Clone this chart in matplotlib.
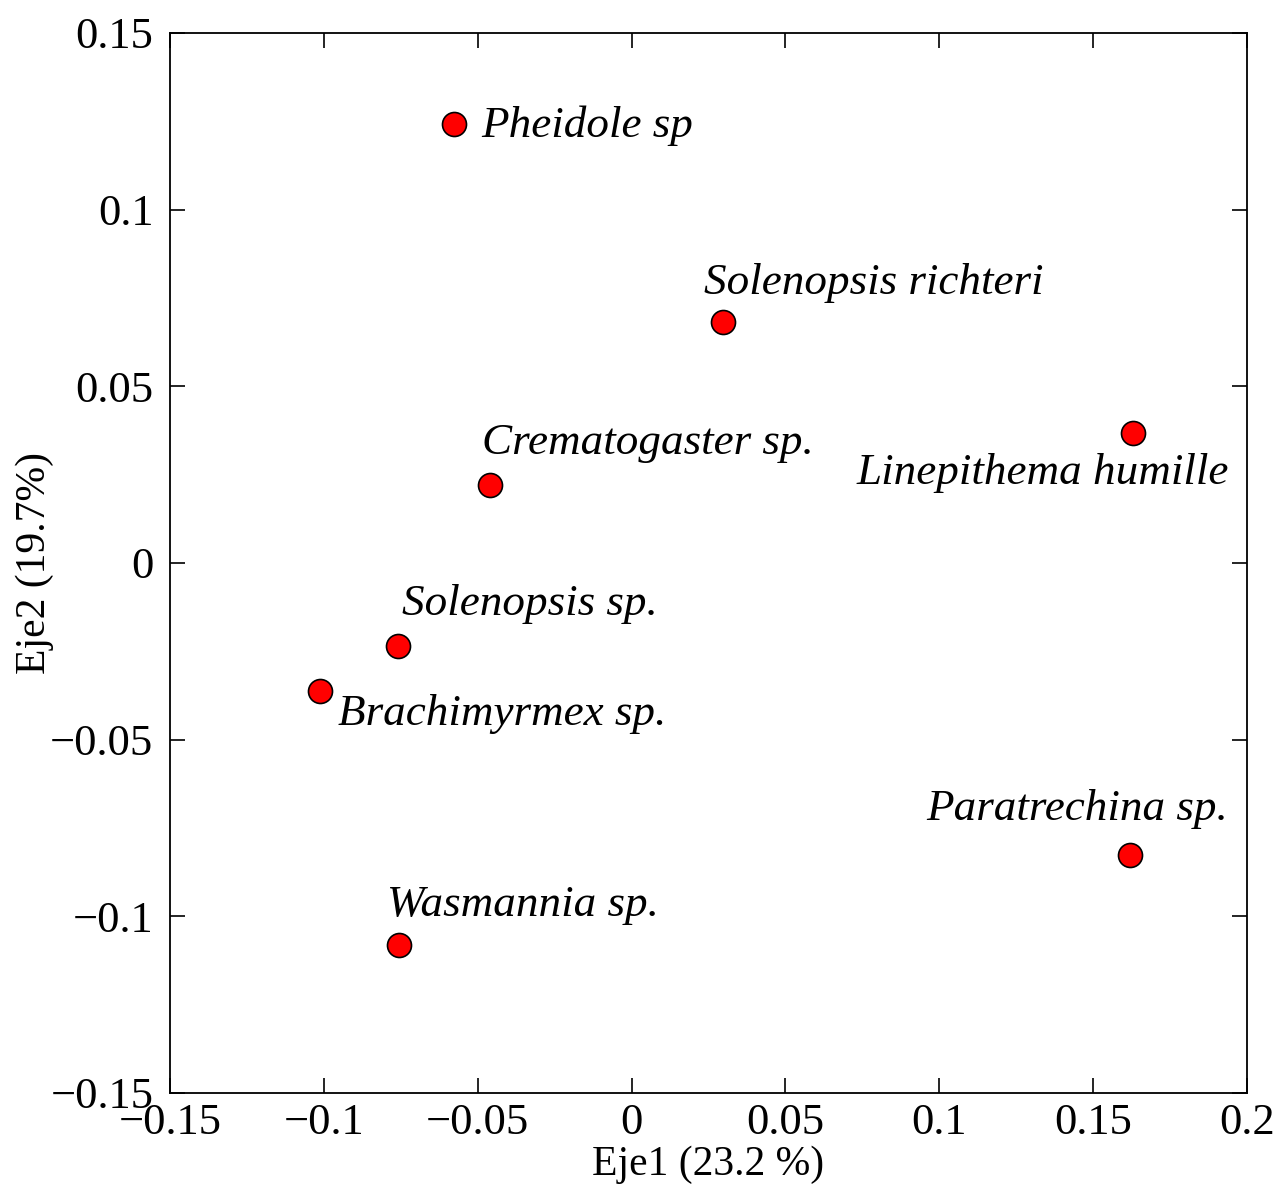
import matplotlib
matplotlib.use('Agg')
import matplotlib.pyplot as plt
import matplotlib.ticker as ticker

# species scores on the first two axes
species = ['Pheidole sp', 'Solenopsis richteri', 'Linepithema humille',
           'Crematogaster sp.', 'Solenopsis sp.', 'Brachimyrmex sp.',
           'Paratrechina sp.', 'Wasmannia sp.']
eje1 = [-0.0577, 0.0298, 0.1630, -0.0460, -0.0759, -0.1013, 0.1620, -0.0756]
eje2 = [0.1243, 0.0682, 0.0368, 0.0221, -0.0235, -0.0362, -0.0826, -0.1081]

ticks = [-0.15, -0.1, -0.05, 0, 0.05, 0.1, 0.15, 0.2]

# label placement (offset in pixels, horizontal alignment)
label_pos = [(27, -2, 'left'), (-19, 39, 'left'), (96, -40, 'right'),
             (-8, 42, 'left'), (4, 42, 'left'), (18, -23, 'left'),
             (98, 46, 'right'), (-12, 40, 'left')]

plt.rcParams['font.family'] = ['Liberation Serif', 'DejaVu Serif']

fig = plt.figure(figsize=(12.84, 11.84), dpi=100)
ax = fig.add_axes([170 / 1284, 91 / 1184, 1077 / 1284, 1060 / 1184])

ax.scatter(eje1, eje2, s=24 ** 2 * 0.5184, c='#ff0000', edgecolors='black',
           linewidths=1.2, zorder=3)

for name, x, y, (dx, dy, ha) in zip(species, eje1, eje2, label_pos):
    ax.annotate(name, (x, y), xytext=(dx, dy), textcoords='offset pixels',
                ha=ha, va='center', fontsize=32.5, style='italic')

ax.set_xlim(-0.15, 0.2)
ax.set_ylim(-0.15, 0.15)
ax.xaxis.set_major_locator(ticker.FixedLocator(ticks))
ax.yaxis.set_major_locator(ticker.FixedLocator([t for t in ticks if t <= 0.15]))
fmt = ticker.FuncFormatter(lambda v, p: f'{v:g}'.replace('-', '\u2212'))
ax.xaxis.set_major_formatter(fmt)
ax.yaxis.set_major_formatter(fmt)
ax.tick_params(direction='in', length=11, width=1.2, labelsize=32,
               top=True, right=True, pad=7)
ax.tick_params(axis='y', pad=12)
for sp in ax.spines.values():
    sp.set_linewidth(1.3)

ax.set_xlabel('Eje1 (23.2 %)', fontsize=30, labelpad=2)
ax.set_ylabel('Eje2 (19.7%)', fontsize=30)
ax.yaxis.set_label_coords(-0.108, 0.5)

fig.savefig('out.png', dpi=100)
